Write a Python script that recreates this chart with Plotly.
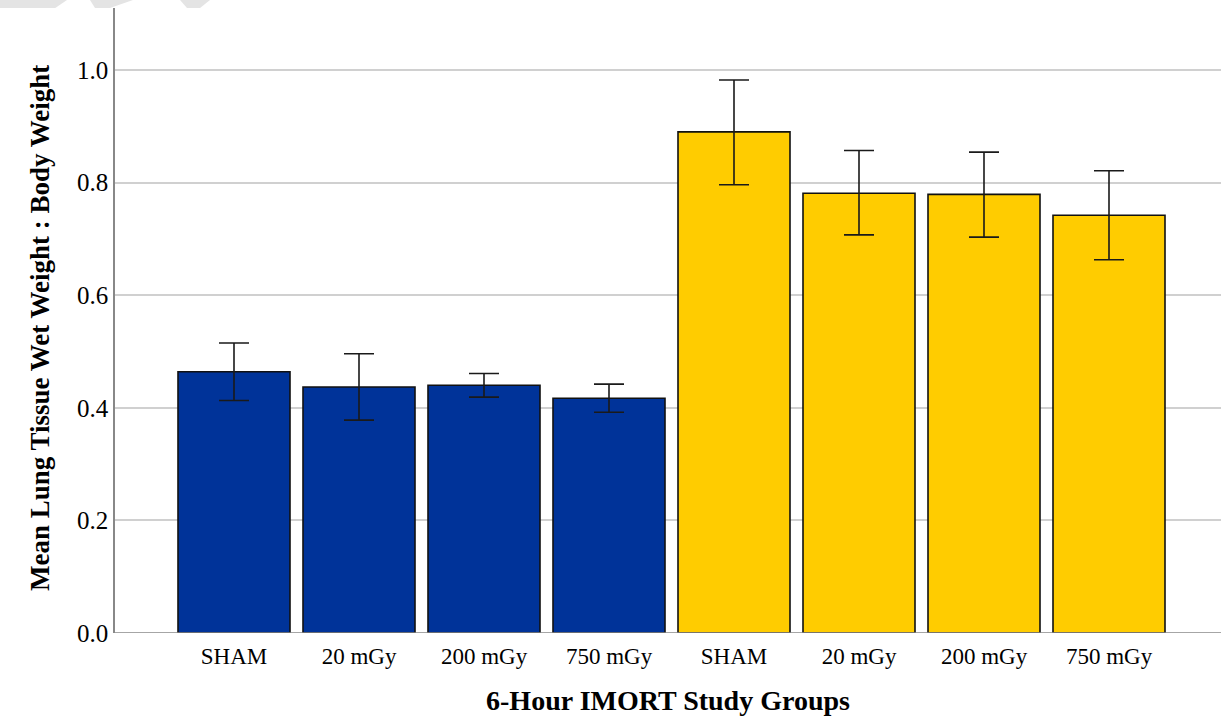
import plotly.graph_objects as go

# Study groups (6-hour IMORT), two cohorts of four dose levels each
groups = ["SHAM", "20 mGy", "200 mGy", "750 mGy", "SHAM", "20 mGy", "200 mGy", "750 mGy"]
means = [0.464, 0.437, 0.440, 0.417, 0.890, 0.781, 0.779, 0.742]
ci_upper = [0.515, 0.496, 0.461, 0.442, 0.982, 0.857, 0.854, 0.821]
ci_lower = [0.413, 0.378, 0.419, 0.392, 0.796, 0.707, 0.703, 0.663]
bar_colors = ["#003399"] * 4 + ["#FFCC00"] * 4
y_ticks = [0.0, 0.2, 0.4, 0.6, 0.8, 1.0]

positions = list(range(len(groups)))
err_plus = [u - m for u, m in zip(ci_upper, means)]
err_minus = [m - l for m, l in zip(means, ci_lower)]

fig = go.Figure()
fig.add_trace(go.Bar(
    x=positions,
    y=means,
    width=0.896,
    marker=dict(color=bar_colors, line=dict(color="#111111", width=1.6)),
    error_y=dict(type="data", symmetric=False, array=err_plus, arrayminus=err_minus,
                 color="#1a1a1a", thickness=1.6, width=15),
    hoverinfo="skip",
))

serif = "Liberation Serif, Times New Roman, serif"
fig.update_layout(
    width=1221, height=718,
    margin=dict(l=115, r=0, t=8, b=85),
    paper_bgcolor="white", plot_bgcolor="white",
    showlegend=False,
    font=dict(family=serif, color="#000000"),
    xaxis=dict(
        range=[-0.952, 7.896],
        tickvals=positions, ticktext=groups,
        tickfont=dict(size=23, family=serif, color="#000000"),
        ticklabelstandoff=7,
        showgrid=False, zeroline=False,
        showline=False, ticks="",
        automargin=False,
        title=dict(text="<b>6-Hour IMORT Study Groups</b>",
                   font=dict(size=28, family=serif, color="#000000"), standoff=22),
    ),
    yaxis=dict(
        range=[0, 1.11],
        tickvals=y_ticks, ticktext=[f"{v:.1f}" for v in y_ticks],
        tickfont=dict(size=25, family=serif, color="#000000"),
        showgrid=True, gridcolor="#d0d0d0", gridwidth=1.5,
        zeroline=False,
        showline=True, linecolor="#888888", linewidth=1.5,
        ticks="", ticklen=0,
        automargin=False,
    ),
)

# value-axis title, placed as a rotated annotation
fig.add_annotation(
    text="<b>Mean Lung Tissue Wet Weight : Body Weight</b>",
    xref="paper", yref="paper", x=-0.0678, y=0.488,
    xanchor="center", yanchor="middle", textangle=-90, showarrow=False,
    font=dict(size=27, family=serif, color="#000000"),
)

# baseline of the value axis
fig.add_shape(type="line", xref="paper", yref="y", x0=0, x1=1, y0=0, y1=0,
              line=dict(color="#888888", width=1.5), layer="above")

# faint watermark fragments along the top edge
wm = "#e4e4e4"
for path in [
    "M -0.104 1.0128 L -0.0434 1.0128 L -0.054 1.0 L -0.104 1.0 Z",
    "M -0.0226 1.0128 L 0.0163 1.0128 L -0.0045 1.0 L -0.0181 1.0 Z",
    "M 0.0588 1.0128 L 0.0859 1.0128 L 0.0769 1.0 L 0.0651 1.0 Z",
]:
    fig.add_shape(type="path", xref="paper", yref="paper", path=path,
                  fillcolor=wm, line=dict(width=0), layer="below")

fig.write_html("out.html")
